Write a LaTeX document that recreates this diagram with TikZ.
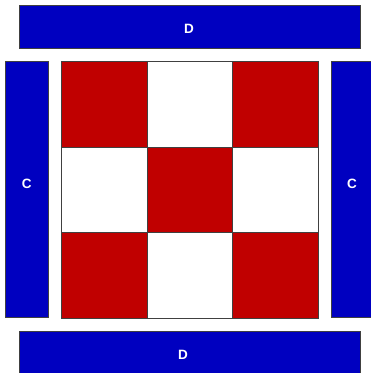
\documentclass[tikz,border=0pt]{standalone}
\usepackage{fontspec}
\setmainfont{Liberation Sans}
\definecolor{myblue}{RGB}{0,0,192}
\definecolor{myred}{RGB}{192,0,0}
\begin{document}
\begin{tikzpicture}[x=1pt,y=-1pt,
  bluebox/.style={draw=black!75,line width=0.8pt,fill=myblue,inner sep=0,anchor=north west},
  boxlabel/.style={text=white,inner sep=0,font=\bfseries\fontsize{13.5}{16}\selectfont},
  cellbox/.style={draw=black!75,line width=0.8pt,minimum width=85.67pt,minimum height=85.67pt,inner sep=0,anchor=north west},
  redcell/.style={cellbox,fill=myred},
  whitecell/.style={cellbox,fill=white}]
\useasboundingbox (0,0) rectangle (371,373);
\clip (0,0) rectangle (371,373);
% grid cells
\foreach \i in {0,1,2}{
  \foreach \j in {0,1,2}{
    \pgfmathtruncatemacro{\parity}{mod(\i+\j,2)}
    \ifnum\parity=0
      \node[redcell] (cell\i\j) at ({61+85.67*\i},{61+85.67*\j}) {};
    \else
      \node[whitecell] (cell\i\j) at ({61+85.67*\i},{61+85.67*\j}) {};
    \fi
  }
}
\node[bluebox,minimum width=341pt,minimum height=43pt] (dtop) at (19,5) {};
\node[bluebox,minimum width=341pt,minimum height=43pt] (dbot) at (19,331) {};
\node[bluebox,minimum width=43pt,minimum height=256pt] (cleft) at (5,61) {};
\node[bluebox,minimum width=43pt,minimum height=256pt] (cright) at (331,61) {};
\node[boxlabel] (tdtop) at (189,29) {D};
\node[boxlabel] (tdbot) at (183,355) {D};
\node[boxlabel] (tcleft) at (26.7,184) {C};
\node[boxlabel] (tcright) at (352,184) {C};
\end{tikzpicture}
\end{document}
